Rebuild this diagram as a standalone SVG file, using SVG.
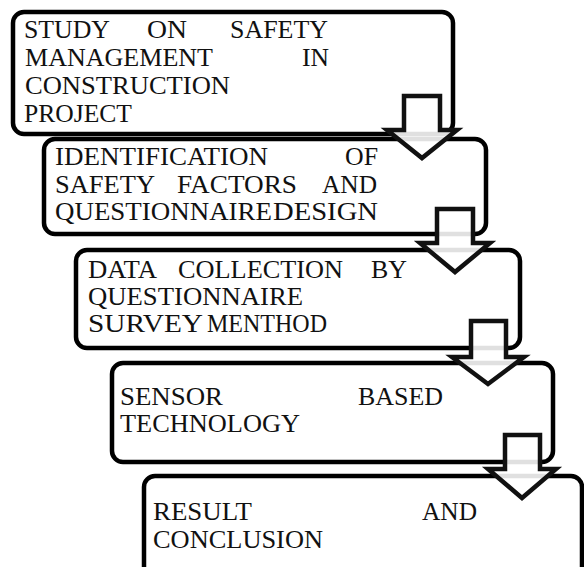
<svg xmlns="http://www.w3.org/2000/svg" width="584" height="567" viewBox="0 0 584 567">
<style>
.box{fill:#fff;stroke:#000;stroke-width:4.5}
.arr{fill:#fff;fill-opacity:0.88;stroke:#111;stroke-width:4.5;stroke-linejoin:miter;stroke-miterlimit:10}
.n{font-family:'Liberation Serif','Times New Roman',serif;font-size:25px;fill:#111}
</style>
<rect width="584" height="567" fill="#fff"/>
<g id="node1" class="n">
<rect class="box" x="13" y="12" width="440" height="122" rx="11"/>
<text x="24" y="38" textLength="86" lengthAdjust="spacingAndGlyphs">STUDY</text>
<text x="147" y="38" textLength="40" lengthAdjust="spacingAndGlyphs">ON</text>
<text x="230" y="38" textLength="98" lengthAdjust="spacingAndGlyphs">SAFETY</text>
<text x="25" y="66" textLength="188" lengthAdjust="spacingAndGlyphs">MANAGEMENT</text>
<text x="302" y="66" textLength="27" lengthAdjust="spacingAndGlyphs">IN</text>
<text x="25" y="94" textLength="205" lengthAdjust="spacingAndGlyphs">CONSTRUCTION</text>
<text x="24" y="122" textLength="108" lengthAdjust="spacingAndGlyphs">PROJECT</text>
</g>
<g id="node2" class="n">
<rect class="box" x="44" y="139" width="442" height="95" rx="11"/>
<text x="55" y="165" textLength="213" lengthAdjust="spacingAndGlyphs">IDENTIFICATION</text>
<text x="345" y="165" textLength="33" lengthAdjust="spacingAndGlyphs">OF</text>
<text x="55" y="193" textLength="100" lengthAdjust="spacingAndGlyphs">SAFETY</text>
<text x="177" y="193" textLength="120" lengthAdjust="spacingAndGlyphs">FACTORS</text>
<text x="322" y="193" textLength="55" lengthAdjust="spacingAndGlyphs">AND</text>
<text x="55" y="220" textLength="217" lengthAdjust="spacingAndGlyphs">QUESTIONNAIRE</text>
<text x="273" y="220" textLength="105" lengthAdjust="spacingAndGlyphs">DESIGN</text>
</g>
<g id="node3" class="n">
<rect class="box" x="76" y="250" width="444" height="98" rx="11"/>
<text x="88" y="278" textLength="69" lengthAdjust="spacingAndGlyphs">DATA</text>
<text x="178" y="278" textLength="165" lengthAdjust="spacingAndGlyphs">COLLECTION</text>
<text x="371" y="278" textLength="36" lengthAdjust="spacingAndGlyphs">BY</text>
<text x="88" y="305" textLength="215" lengthAdjust="spacingAndGlyphs">QUESTIONNAIRE</text>
<text x="88" y="332" textLength="115" lengthAdjust="spacingAndGlyphs">SURVEY</text>
<text x="207" y="332" textLength="120" lengthAdjust="spacingAndGlyphs">MENTHOD</text>
</g>
<g id="node4" class="n">
<rect class="box" x="112" y="363" width="441" height="99" rx="11"/>
<text x="120" y="405" textLength="103" lengthAdjust="spacingAndGlyphs">SENSOR</text>
<text x="358" y="405" textLength="85" lengthAdjust="spacingAndGlyphs">BASED</text>
<text x="120" y="432" textLength="180" lengthAdjust="spacingAndGlyphs">TECHNOLOGY</text>
</g>
<g id="node5" class="n">
<rect class="box" x="144" y="476" width="438" height="120" rx="11"/>
<text x="153" y="520" textLength="99" lengthAdjust="spacingAndGlyphs">RESULT</text>
<text x="422" y="520" textLength="55" lengthAdjust="spacingAndGlyphs">AND</text>
<text x="153" y="548" textLength="170" lengthAdjust="spacingAndGlyphs">CONCLUSION</text>
</g>
<g id="connectors">
<polygon class="arr" points="404,96 440,96 440,130 457,130 422,158 387,130 404,130"/>
<polygon class="arr" points="437,209 473,209 473,243 490,243 455,272 420,243 437,243"/>
<polygon class="arr" points="471,321 506,321 506,357 524,357 488,384 452,357 471,357"/>
<polygon class="arr" points="505,435 540,435 540,469 556,469 522,498 488,469 505,469"/>
</g>
</svg>
